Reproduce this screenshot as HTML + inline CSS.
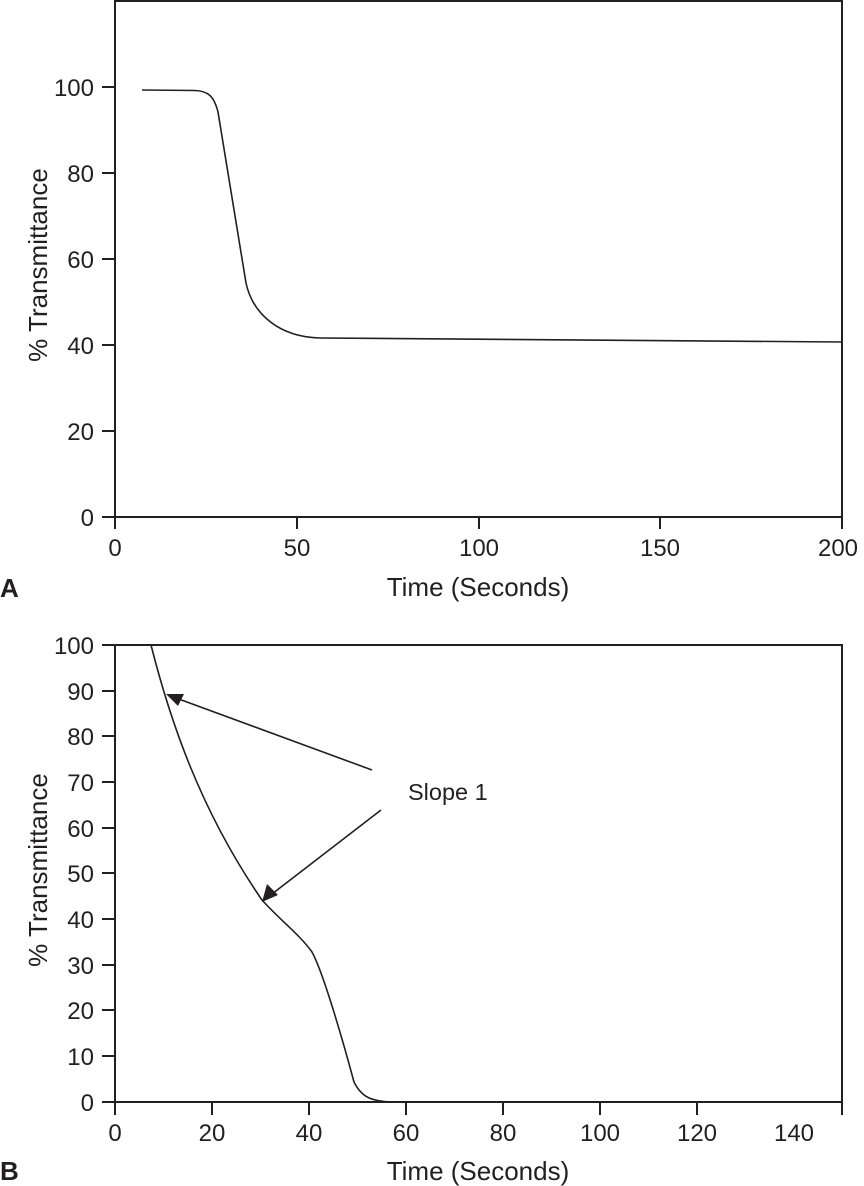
<!DOCTYPE html>
<html><head><style>body{margin:0;background:#fff}svg{display:block}text{font-family:"Liberation Sans",sans-serif;fill:#231f20}</style></head>
<body>
<svg width="864" height="1186" viewBox="0 0 864 1186">
<g stroke="#231f20" stroke-width="2" fill="none">
<polyline points="115,0 115,517 842,517 842,0"/>
<line x1="115" y1="1" x2="842" y2="1"/>
<path d="M102,87H115M102,173H115M102,259H115M102,345H115M102,431H115M102,517H115"/>
<path d="M115,517V529M297,517V529M479,517V529M660,517V529M842,517V529"/>
<path stroke-width="1.6" d="M142,90 L195,90.5 C208,91 214,96 218,112 L246,283 C253,315 280,337 320,338 L842,342"/>
<rect x="115" y="645" width="727" height="457"/>
<path d="M102,645H115M102,691H115M102,736H115M102,782H115M102,828H115M102,873H115M102,919H115M102,965H115M102,1010H115M102,1056H115M102,1102H115"/>
<path d="M115,1102V1115M212,1102V1115M309,1102V1115M406,1102V1115M503,1102V1115M600,1102V1115M697,1102V1115M842,1102V1115"/>
<path stroke-width="1.6" d="M151,645 C170,720 200,810 262,900 C280,920 300,935 312,952 C322,970 340,1030 354,1082 C362,1098 372,1101 391,1102"/>
<path stroke-width="1.6" d="M372,770L176,698M381,810L272,894"/>
</g>
<g fill="#231f20">
<polygon points="166,694 184,694 178,706"/>
<polygon points="262,902 267,884 278,895"/>
</g>
<g font-size="24" text-anchor="end">
<text x="94" y="96">100</text><text x="94" y="182">80</text><text x="94" y="268">60</text><text x="94" y="354">40</text><text x="94" y="440">20</text><text x="94" y="526">0</text>
<text x="94" y="654">100</text><text x="94" y="700">90</text><text x="94" y="745">80</text><text x="94" y="791">70</text><text x="94" y="837">60</text><text x="94" y="882">50</text><text x="94" y="928">40</text><text x="94" y="974">30</text><text x="94" y="1019">20</text><text x="94" y="1065">10</text><text x="94" y="1111">0</text>
</g>
<g font-size="24" text-anchor="middle">
<text x="115" y="556">0</text><text x="297" y="556">50</text><text x="479" y="556">100</text><text x="660" y="556">150</text><text x="838" y="556">200</text>
<text x="115" y="1141">0</text><text x="212" y="1141">20</text><text x="309" y="1141">40</text><text x="406" y="1141">60</text><text x="503" y="1141">80</text><text x="600" y="1141">100</text><text x="697" y="1141">120</text><text x="794" y="1141">140</text>
</g>
<g font-size="26" text-anchor="middle">
<text x="478" y="596">Time (Seconds)</text>
<text x="478" y="1180">Time (Seconds)</text>
<text transform="translate(47,265) rotate(-90)">% Transmittance</text>
<text transform="translate(47,870) rotate(-90)">% Transmittance</text>
</g>
<text x="408" y="800" font-size="23.5">Slope 1</text>
<text x="0" y="597" font-size="26" font-weight="bold">A</text>
<text x="0" y="1180" font-size="26" font-weight="bold">B</text>
</svg>
</body></html>
